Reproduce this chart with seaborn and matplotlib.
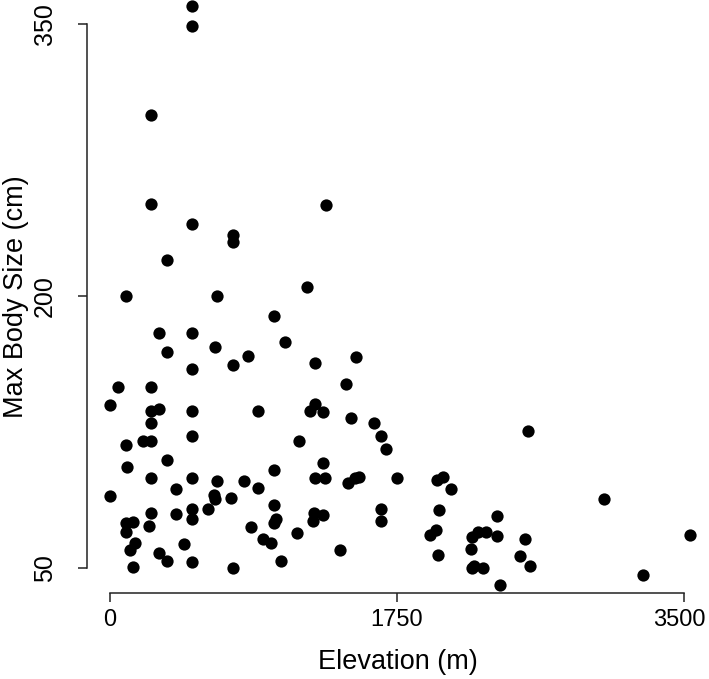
import matplotlib
matplotlib.use('Agg')
import matplotlib.pyplot as plt
import matplotlib.transforms as mtransforms
import seaborn as sns
import pandas as pd

# style: plain white, R-like axes
sns.set_style('ticks')
plt.rcParams['font.family'] = ['Liberation Sans', 'DejaVu Sans']
plt.rcParams['text.color'] = 'black'
plt.rcParams['axes.labelcolor'] = 'black'
plt.rcParams['xtick.color'] = 'black'
plt.rcParams['ytick.color'] = 'black'

# elevation (m) and max body size (cm)
elevation = [500, 500, 250, 250, 1320, 500, 750, 750, 350, 100,
             650, 1200, 1000, 300, 500, 1070, 350, 640, 840, 750,
             500, 1250, 50, 250, 1440, 1500, 0, 250, 300, 500,
             900, 1220, 1250, 1300, 1470, 250, 500, 100, 200, 250,
             1150, 350, 105, 1000, 1300, 250, 500, 1250, 1310, 1450,
             1495, 1520, 650, 820, 900, 400, 0, 635, 640, 735,
             1000, 250, 400, 500, 500, 600, 1015, 1000, 1245, 1300,
             1235, 100, 140, 100, 235, 860, 1140, 935, 980, 450,
             150, 125, 300, 350, 500, 1040, 1400, 140, 750, 1610,
             1650, 1680, 2550, 1750, 1995, 2030, 2080, 1650, 1650, 2005,
             3010, 2360, 1990, 1950, 2245, 2295, 2205, 2360, 2530, 2000,
             2200, 2500, 2560, 2205, 2220, 2275, 3535, 3250, 2380]
body_size = [360, 349, 300, 251, 250, 240, 234, 230, 220, 200,
             200, 205, 189, 180, 180, 175, 169, 172, 167, 162,
             160, 163, 150, 150, 151.5, 166.5, 140, 137, 138, 137,
             137, 137, 140.5, 136, 133, 130, 123, 118, 120, 120,
             120, 110, 106, 104, 108, 100, 100, 100, 100, 97,
             100, 100.5, 98, 98, 94.5, 94, 90, 90.5, 88, 88.7,
             85, 80.5, 80, 83, 77, 82.5, 77.5, 75, 80.5, 79.5,
             76.3, 75, 75.8, 70, 73.4, 72.7, 69.6, 66, 64, 63.5,
             64, 60, 58.5, 54.3, 53.7, 54, 60, 50.7, 50, 130,
             123, 116, 126, 100, 99, 100.4, 94, 83, 76.3, 82,
             88.3, 79, 71.4, 68.3, 70, 70, 67.5, 67.7, 66, 57.6,
             60.7, 57, 51.5, 50, 51.4, 50, 68.5, 46.6, 41]

x_ticks = [0, 1750, 3500]
y_ticks = [50, 200, 350]

df = pd.DataFrame({'Elevation': elevation, 'MaxSize': body_size})

fig = plt.figure(figsize=(7.09, 6.79), dpi=100)
ax = fig.add_axes([0.1227, 0.1267, 0.8773, 0.8733])

sns.scatterplot(data=df, x='Elevation', y='MaxSize', ax=ax, color='black',
                s=78, linewidth=0, clip_on=False, legend=False)

ax.set_xlim(-140, 3652)
ax.set_ylim(36.5, 363.2)

# R style axes: lines only between first and last tick
sns.despine(ax=ax)
ax.spines['bottom'].set_bounds(0, 3500)
ax.spines['left'].set_bounds(50, 350)
for sp in ['bottom', 'left']:
    ax.spines[sp].set_linewidth(1.1)
    ax.spines[sp].set_color('#222222')

ax.set_xticks(x_ticks)
ax.set_yticks(y_ticks)
ax.set_xticklabels([str(t) for t in x_ticks], fontsize=17)
ax.set_yticklabels([str(t) for t in y_ticks], fontsize=18, rotation=90, va='center')
ax.tick_params(axis='both', direction='out', length=6.5, width=1.1, color='#222222')
ax.tick_params(axis='x', pad=5)
ax.tick_params(axis='y', pad=15)

# last x label sits at the figure edge, nudge it in a bit
last = ax.get_xticklabels()[-1]
last.set_transform(last.get_transform() + mtransforms.ScaledTranslation(-5 / 100, 0, fig.dpi_scale_trans))

ax.set_xlabel('Elevation (m)', fontsize=19.5)
ax.set_ylabel('Max Body Size (cm)', fontsize=19.5)
ax.xaxis.set_label_coords(0.5, -0.116)
ax.xaxis.label.set_va('center')
ax.yaxis.set_label_coords(-0.114, 0.5)
ax.yaxis.label.set_va('center')

fig.savefig('out.png', dpi=100)
